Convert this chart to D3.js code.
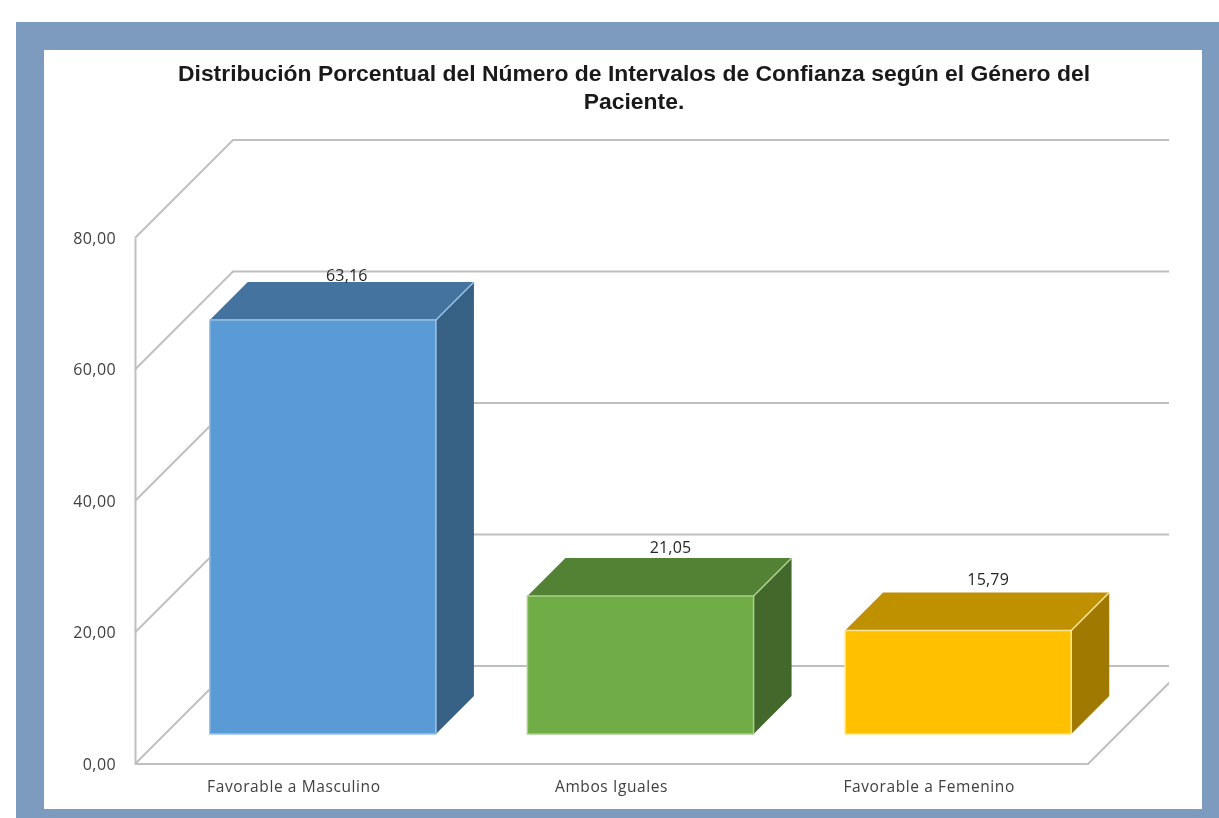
<!DOCTYPE html>
<html>
<head>
<meta charset="utf-8">
<script src="https://cdn.jsdelivr.net/npm/d3@7"></script>
<style>
  html, body { margin: 0; padding: 0; background: #fff; }
  svg { display: block; filter: blur(0.5px); }
</style>
</head>
<body>
<div id="chart"></div>
<script>
const categories = ['Favorable a Masculino', 'Ambos Iguales', 'Favorable a Femenino'];
const values = [63.16, 21.05, 15.79];
const yTicks = [0, 20, 40, 60, 80];
const titleLines = [
  'Distribución Porcentual del Número de Intervalos de Confianza según el Género del',
  'Paciente.'
];

const frontColors = ['#5b9bd5', '#70ad47', '#ffc000'];
const topColors = ['#4473a0', '#548235', '#bf9000'];
const sideColors = ['#376285', '#43682b', '#a07900'];
const edgeColors = ['#9dc3e6', '#a9d18e', '#ffe699'];

const width = 1219, height = 818;
const gridColor = '#bfbfbf';

// 3D look: the back wall is shifted up/right, bars sit inside the floor
const wallDepth = 98;
const barInsetX = 29;
const barInsetY = 30;
const barDepth = 38;
const clipRight = 1169;

const x = d3.scaleBand().domain(categories).range([135, 1088]).paddingInner(0.288).paddingOuter(0.144);
const y = d3.scaleLinear().domain([0, 80]).range([764, 238]);
// bars come out slightly shorter than the axis in the original
const yBar = d3.scaleLinear().domain([0, 80]).range([764, 239.5]);
const comma = d3.formatLocale({decimal: ',', thousands: '.', grouping: [3], currency: ['', '']}).format('.2f');

const svg = d3.select('#chart').append('svg')
  .attr('width', width)
  .attr('height', height)
  .attr('viewBox', `0 0 ${width} ${height}`);

svg.append('rect').attr('x', 16).attr('y', 22).attr('width', width - 16).attr('height', height - 22).attr('fill', '#7d9abf');
svg.append('rect').attr('x', 44).attr('y', 50).attr('width', 1158).attr('height', 759).attr('fill', '#fff');

svg.append('defs').append('clipPath').attr('id', 'plot-clip')
  .append('rect').attr('x', 100).attr('y', 100).attr('width', clipRight - 100).attr('height', 700);

svg.append('text')
  .attr('text-anchor', 'middle')
  .attr('font-family', '"Liberation Sans", Arial, sans-serif')
  .attr('font-weight', 700)
  .attr('font-size', 22.9)
  .attr('fill', '#1a1a1a')
  .selectAll('tspan')
  .data(titleLines)
  .enter().append('tspan')
  .attr('x', 634)
  .attr('y', (d, i) => 81 + i * 28)
  .text(d => d);

const grid = svg.append('g')
  .attr('clip-path', 'url(#plot-clip)')
  .attr('fill', 'none')
  .attr('stroke', gridColor)
  .attr('stroke-width', 2);

// gridlines: diagonal on the side wall, then straight along the back wall
grid.selectAll('path')
  .data(yTicks)
  .enter().append('path')
  .attr('d', d => {
    const p = d3.path();
    p.moveTo(135, y(d));
    p.lineTo(135 + wallDepth, y(d) - wallDepth);
    p.lineTo(clipRight + 20, y(d) - wallDepth);
    return p.toString();
  });

// floor edge, front and right
const floor = d3.path();
floor.moveTo(135, y(0));
floor.lineTo(x.range()[1], y(0));
floor.lineTo(x.range()[1] + wallDepth, y(0) - wallDepth);
grid.append('path').attr('d', floor.toString());

const axisY = svg.append('g')
  .attr('transform', 'translate(135,0)')
  .call(d3.axisLeft(y).tickValues(yTicks).tickSize(0).tickPadding(19).tickFormat(comma));
axisY.select('.domain').attr('stroke', gridColor).attr('stroke-width', 2);
axisY.selectAll('text')
  .attr('font-family', '"Open Sans", sans-serif')
  .attr('font-size', 16)
  .attr('letter-spacing', 0.4)
  .attr('fill', '#404040');

const axisX = svg.append('g')
  .attr('transform', `translate(0,${y(0)})`)
  .call(d3.axisBottom(x).tickSize(0).tickPadding(17));
axisX.select('.domain').remove();
axisX.selectAll('text')
  .attr('font-family', '"Open Sans", sans-serif')
  .attr('font-size', 15.5)
  .attr('letter-spacing', 0.6)
  .attr('fill', '#404040');

const bars = svg.selectAll('.bar')
  .data(categories.map((name, i) => ({name, value: values[i], i})))
  .enter().append('g')
  .attr('class', 'bar')
  .attr('transform', `translate(${barInsetX},${-barInsetY})`);

const poly = pts => d3.line()(pts) + 'Z';

bars.append('path')
  .attr('fill', d => sideColors[d.i])
  .attr('d', d => {
    const r = x(d.name) + x.bandwidth();
    return poly([[r, yBar(d.value)], [r + barDepth, yBar(d.value) - barDepth], [r + barDepth, yBar(0) - barDepth], [r, yBar(0)]]);
  });

bars.append('path')
  .attr('fill', d => topColors[d.i])
  .attr('d', d => {
    const l = x(d.name), r = l + x.bandwidth();
    return poly([[l, yBar(d.value)], [l + barDepth, yBar(d.value) - barDepth], [r + barDepth, yBar(d.value) - barDepth], [r, yBar(d.value)]]);
  });

bars.append('rect')
  .attr('x', d => x(d.name))
  .attr('y', d => yBar(d.value))
  .attr('width', x.bandwidth())
  .attr('height', d => yBar(0) - yBar(d.value))
  .attr('fill', d => frontColors[d.i])
  .attr('stroke', d => edgeColors[d.i])
  .attr('stroke-width', 1.5);

// light edge going back from the front top right corner
bars.append('line')
  .attr('x1', d => x(d.name) + x.bandwidth())
  .attr('y1', d => yBar(d.value))
  .attr('x2', d => x(d.name) + x.bandwidth() + barDepth)
  .attr('y2', d => yBar(d.value) - barDepth)
  .attr('stroke', d => edgeColors[d.i])
  .attr('stroke-width', 1.5);

// label heights differ per bar in the original
const labelLift = [-4, 0, 2];

bars.append('text')
  .attr('x', d => x(d.name) + x.bandwidth() / 2 + barDepth / 2 + (d.i === 0 ? 5 : 11))
  .attr('y', d => yBar(d.value) - barDepth - labelLift[d.i] - 5)
  .attr('text-anchor', 'middle')
  .attr('font-family', '"Open Sans", sans-serif')
  .attr('font-size', 16)
  .attr('letter-spacing', 0.2)
  .attr('fill', '#262626')
  .text(d => comma(d.value));
</script>
</body>
</html>
